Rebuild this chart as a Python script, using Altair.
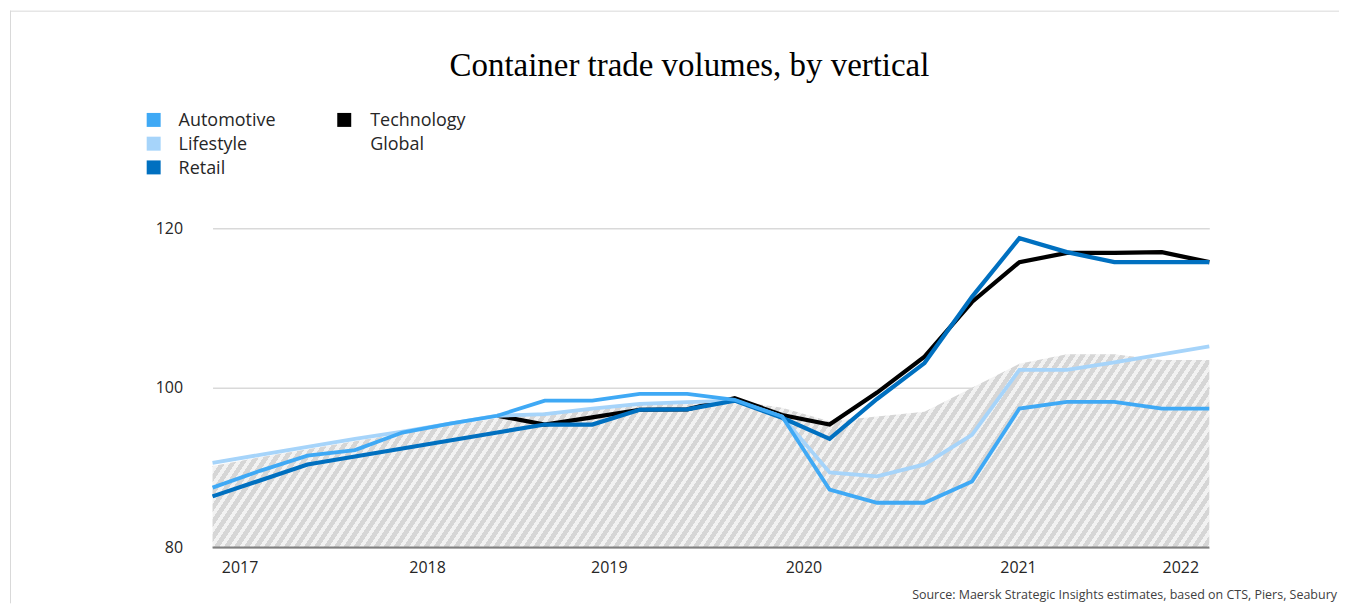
import altair as alt
import pandas as pd

# ---------------- data ----------------
periods = list(range(22))  # quarterly points
automotive = [87.5, 89.6, 91.5, 92.2, 94.4, 95.5, 96.5, 98.4, 98.4, 99.25, 99.25,
              98.5, 96.4, 87.25, 85.6, 85.6, 88.25, 97.4, 98.25, 98.25, 97.4, 97.4]
lifestyle = [90.6, 91.6, 92.6, 93.6, 94.5, 95.5, 96.5, 96.7, 97.4, 98.0, 98.2,
             98.4, 96.4, 89.4, 88.9, 90.4, 94.1, 102.25, 102.25, 103.2, 104.2, 105.2]
retail = [86.4, 88.4, 90.4, 91.4, 92.4, 93.4, 94.4, 95.4, 95.4, 97.25, 97.3,
          98.4, 96.25, 93.6, 98.6, 103.1, 111.4, 118.75, 117.0, 115.75, 115.75, 115.75]
technology = [None, None, None, None, None, None, 96.5, 95.4, 96.3, 97.25, 97.3,
              98.7, 96.6, 95.4, 99.4, 103.9, 110.75, 115.75, 116.9, 116.9, 117.0, 115.75]
global_volume = [90.2, 91.3, 92.3, 93.3, 94.3, 95.3, 96.2, 96.9, 97.5, 98.0, 98.3,
                 98.4, 97.5, 95.8, 96.4, 97.0, 100.0, 103.0, 104.2, 104.2, 103.5, 103.5]

year_labels = ["2017", "2018", "2019", "2020", "2021", "2022"]
year_ticks = [0.57, 4.52, 8.35, 12.45, 16.97, 20.39]
y_ticks = [80, 100, 120]

series_names = ["Automotive", "Lifestyle", "Retail", "Technology"]
legend_names = ["Automotive", "Lifestyle", "Retail", "Technology", "Global"]
legend_colors = ["#3FA9F5", "#A6D4FA", "#0070C0", "#000000", "transparent"]
draw_order = ["Technology", "Lifestyle", "Retail", "Automotive"]

title_text = "Container trade volumes, by vertical"
source_text = "Source: Maersk Strategic Insights estimates, based on CTS, Piers, Seabury"

# ---------------- tables ----------------
rows = []
for name, vals in zip(series_names, [automotive, lifestyle, retail, technology]):
    for p, v in zip(periods, vals):
        if v is not None:
            rows.append({"period": p, "value": v, "series": name})
lines_df = pd.DataFrame(rows)
global_df = pd.DataFrame({"period": periods, "value": global_volume})
legend_df = pd.DataFrame({"series": legend_names, "i": list(range(len(legend_names)))})
one = pd.DataFrame({"a": [0]})

# ---------------- layout ----------------
W, H = 999, 320
PAD = {"left": 205, "top": 220, "right": 130, "bottom": 56}
OX, OY = 8 + PAD["left"], 8 + PAD["top"]  # page position of the plot origin

x_scale = alt.Scale(domain=[0, 21], nice=False, zero=False)
y_scale = alt.Scale(domain=[80, 120], nice=False, zero=False)
color_scale = alt.Scale(domain=legend_names, range=legend_colors)

label_expr = ("[" + ",".join("'%s'" % s for s in year_labels) + "][indexof(["
              + ",".join(str(t) for t in year_ticks) + "], datum.value)]")

x_axis = alt.Axis(values=year_ticks, labelExpr=label_expr, grid=False, domain=False,
                  ticks=False, labelPadding=12, labelFont="Open Sans", labelFontSize=16,
                  labelColor="#262626", title=None, labelFlush=False)
y_axis = alt.Axis(values=y_ticks, grid=True, gridColor="#D9D9D9", gridWidth=1.5,
                  domain=False, ticks=False, labelPadding=30, labelFont="Open Sans",
                  labelFontSize=16, labelColor="#262626", title=None)

# hatched fill built as a striped linear gradient (style only)
tan_a = 1.5
area_h = (max(global_volume) - 80) * H / 40
b = area_h / (tan_a * W)
s = 1.15
c_total = tan_a * W * s * (1 + b * b)
period_t = (tan_a * 10.0) / c_total
gray_frac = 0.55
stops = []
o = 0.0
while o < 1.0:
    g = min(o + gray_frac * period_t, 1.0)
    e = min(o + period_t, 1.0)
    stops += [alt.GradientStop(offset=round(o, 6), color="#D6D6D6"),
              alt.GradientStop(offset=round(g, 6), color="#D6D6D6"),
              alt.GradientStop(offset=round(g, 6), color="#F2F2F2"),
              alt.GradientStop(offset=round(e, 6), color="#F2F2F2")]
    o += period_t
hatch = alt.LinearGradient(gradient="linear", stops=stops, x1=0, y1=0, x2=s, y2=s * b)

area = alt.Chart(global_df).mark_area(color=hatch).encode(
    x=alt.X("period:Q", scale=x_scale, axis=x_axis),
    y=alt.Y("value:Q", scale=y_scale, axis=y_axis),
    y2=alt.datum(80),
)

line_layers = []
for name in draw_order:
    line_layers.append(
        alt.Chart(lines_df).transform_filter(alt.datum.series == name)
        .mark_line(strokeWidth=4.2 if name in ("Retail", "Technology") else 3.8,
                   strokeJoin="miter", strokeCap="butt")
        .encode(x=alt.X("period:Q", scale=x_scale),
                y=alt.Y("value:Q", scale=y_scale),
                color=alt.Color("series:N", scale=color_scale, legend=None))
    )

baseline = alt.Chart(one).mark_rule(color="#808080", strokeWidth=2).encode(
    y=alt.datum(80), x=alt.value(0), x2=alt.value(W))

# custom legend: two columns, column-major order
legend_base = alt.Chart(legend_df).transform_calculate(
    col="floor(datum.i / 3)", row="datum.i % 3"
).transform_calculate(
    sx=f"{154 - OX} + datum.col * 191",
    tx=f"{179 - OX} + datum.col * 192",
    sy=f"{119.5 - OY} + datum.row * 23.8",
    ty=f"{121 - OY} + datum.row * 23.8",
)
legend_sym = legend_base.mark_square(size=196, filled=True, opacity=1).encode(
    x=alt.X("sx:Q", scale=None, axis=None),
    y=alt.Y("sy:Q", scale=None, axis=None),
    color=alt.Color("series:N", scale=color_scale, legend=None),
)
legend_txt = legend_base.mark_text(align="left", baseline="middle", font="Open Sans",
                                   fontSize=18, color="#262626").encode(
    x=alt.X("tx:Q", scale=None, axis=None),
    y=alt.Y("ty:Q", scale=None, axis=None),
    text="series:N",
)

frame_top = alt.Chart(one).mark_rule(color="#D9D9D9", strokeWidth=1).encode(
    x=alt.value(10 - OX), x2=alt.value(1347 - OX), y=alt.value(10.5 - OY))
frame_left = alt.Chart(one).mark_rule(color="#D9D9D9", strokeWidth=1).encode(
    x=alt.value(10.5 - OX), y=alt.value(10 - OY), y2=alt.value(H + PAD["bottom"]))

title = alt.Chart(one).mark_text(align="center", baseline="alphabetic",
                                 font="Liberation Serif", fontSize=33,
                                 color="#000000").encode(
    x=alt.value(691 - OX), y=alt.value(75 - OY), text=alt.value(title_text))

source = alt.Chart(one).mark_text(align="right", baseline="middle", font="Open Sans",
                                  fontSize=12.5, color="#404040").encode(
    x=alt.value(1340 - OX), y=alt.value(596 - OY), text=alt.value(source_text))

chart = alt.layer(area, *line_layers, baseline, legend_sym, legend_txt, frame_top,
                  frame_left, title, source).properties(
    width=W, height=H, padding=PAD, autosize="none",
).configure_view(stroke=None)

chart.save("out.html", embed_options={"renderer": "svg", "actions": False})
